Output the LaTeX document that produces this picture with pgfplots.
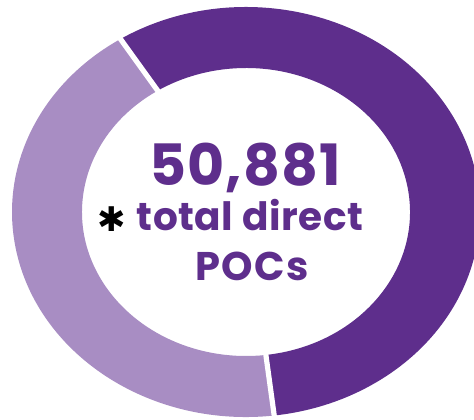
\documentclass[border=0pt]{standalone}
\usepackage{pgfplots}
\pgfplotsset{compat=1.18}
\usepackage{pgfplotstable}
\usetikzlibrary{calc}
\usepackage{fontspec}
\setmainfont{Poppins}
\newfontfamily\symfont{DejaVu Sans}
\definecolor{darkp}{RGB}{94,46,140}
\definecolor{lightp}{RGB}{168,141,195}
\pgfplotstableread{
segment share
dark 57.1
light 42.9
}\shares
\begin{document}
\begin{tikzpicture}
\pgfplotstablegetelem{0}{share}\of\shares \let\va\pgfplotsretval
\pgfplotstablegetelem{1}{share}\of\shares \let\vb\pgfplotsretval
\pgfmathsetmacro\tot{\va+\vb}
\pgfmathsetmacro\aS{122.5}
\pgfmathsetmacro\aM{\aS-360*(\va/\tot)}
\pgfmathsetmacro\aE{\aM-360*(\vb/\tot)}
\begin{axis}[x=0.5pt,y=0.5pt,xmin=0,xmax=474,ymin=0,ymax=419,
  hide axis, scale only axis, clip=true]
\path (axis cs:0,0) rectangle (axis cs:474,419);
% dark segment
\fill[darkp] ($(axis cs:246,207)+(\aS:117pt and 102.5pt)$)
  arc[start angle=\aS, end angle=\aM, x radius=117pt, y radius=102.5pt]
  -- ($(axis cs:246,207)+(\aM:82pt and 72pt)$)
  arc[start angle=\aM, end angle=\aS, x radius=82pt, y radius=72pt] -- cycle;
% light segment
\fill[lightp] ($(axis cs:246,207)+(\aM:117pt and 102.5pt)$)
  arc[start angle=\aM, end angle=\aE, x radius=117pt, y radius=102.5pt]
  -- ($(axis cs:246,207)+(\aE:82pt and 72pt)$)
  arc[start angle=\aE, end angle=\aM, x radius=82pt, y radius=72pt] -- cycle;
% separators
\draw[white, line width=2.6pt] ($(axis cs:246,207)+(\aS:80pt and 70pt)$) -- ($(axis cs:246,207)+(\aS:119pt and 104.5pt)$);
\draw[white, line width=2.6pt] ($(axis cs:246,207)+(\aM:80pt and 70pt)$) -- ($(axis cs:246,207)+(\aM:119pt and 104.5pt)$);
% centre text
\node[anchor=base, text=darkp, font=\fontsize{28.5}{28}\selectfont\bfseries\addfontfeature{LetterSpace=2}, inner sep=0pt] at (axis cs:245,234) {50,881};
\node[anchor=base, text=darkp, font=\fontsize{19.5}{19}\selectfont\bfseries\addfontfeature{LetterSpace=1.5}, inner sep=0pt] at (axis cs:250,189) {total direct};
\node[anchor=base, text=darkp, font=\fontsize{20}{19}\selectfont\bfseries\addfontfeature{LetterSpace=3.5}, inner sep=0pt] at (axis cs:252,139) {POCs};
\node[anchor=center, text=black, font=\symfont\bfseries\fontsize{17}{17}\selectfont, inner sep=0pt] at (axis cs:112,200) {✱};
\end{axis}
\end{tikzpicture}
\end{document}
